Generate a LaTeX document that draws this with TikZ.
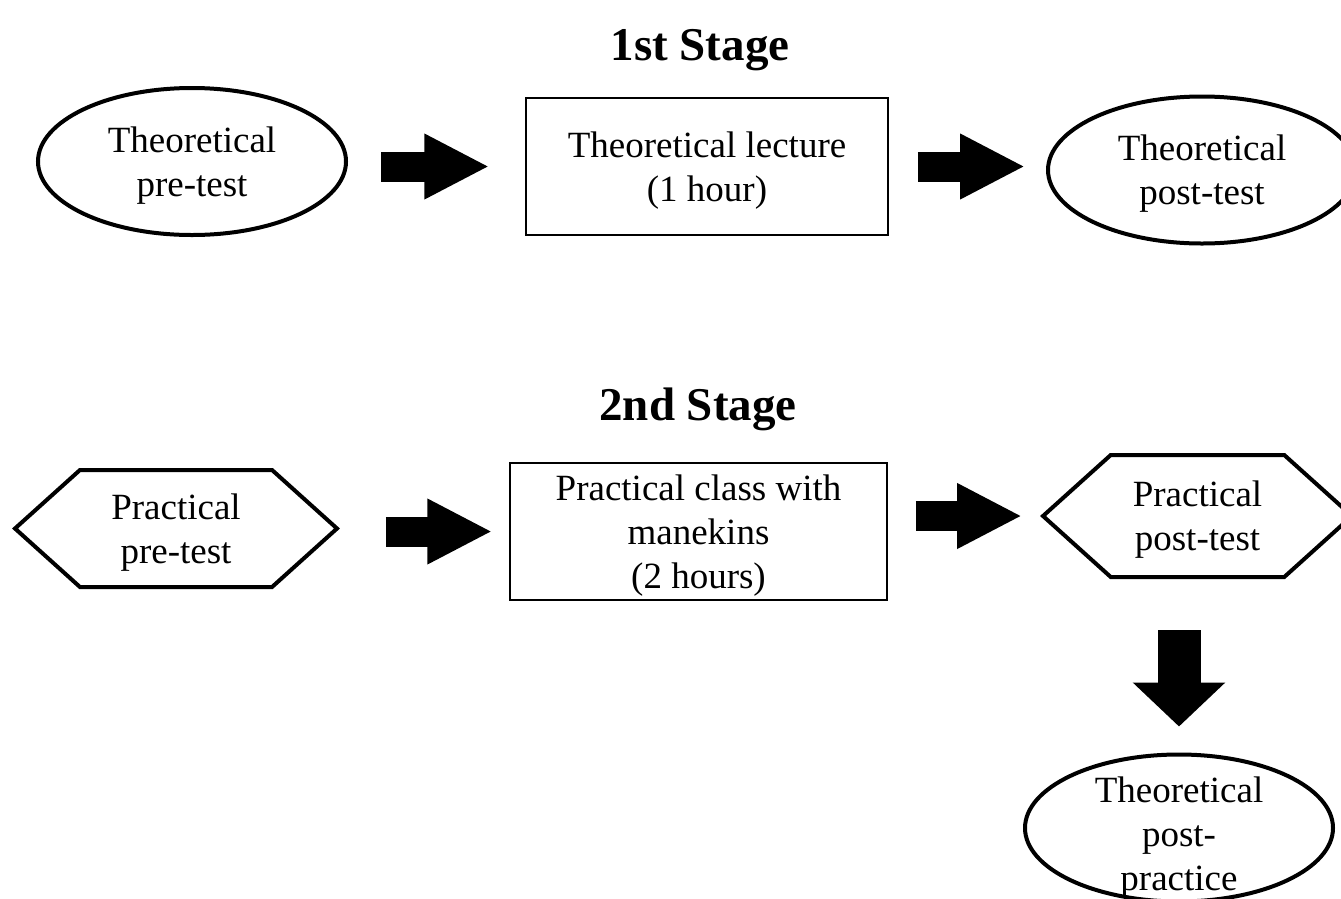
\documentclass[tikz,border=0pt]{standalone}
\usepackage{fontspec}
\setmainfont{Liberation Serif}
\usetikzlibrary{shapes.geometric,shapes.symbols,arrows.meta}

\begin{document}
\begin{tikzpicture}[x=1pt,y=-1pt,
txt/.style={%
font=\fontsize{37}{44}\selectfont,
align=center,
text depth=0pt,
},
stage/.style={%
anchor=base,
font=\fontsize{47}{54}\selectfont\bfseries,
},
test/.style={%
txt,
ellipse,
draw,
line width=4pt,
inner sep=0pt,
minimum width=308pt,
minimum height=147pt,
},
practest/.style={%
txt,
signal,
signal to=west and east,
signal pointer angle=84,
draw,
line width=4pt,
inner sep=0pt,
},
lesson/.style={%
txt,
draw,
line width=1.5pt,
minimum height=137pt,
},
fat/.style={%
line width=30pt,
-{Triangle[length=65pt,width=61pt]},
},
]
\useasboundingbox(0,0)rectangle(1341,898);
%% 1st stage
\node[stage]at(700,60)(s1){1st Stage};
\node[test]at(192,161.5)(tpre){Theoretical\\pre-test};
\node[lesson,minimum width=362pt]at(707,166.5)(lect){Theoretical lecture\\(1 hour)};
\node[test]at(1202,170)(tpost){Theoretical\\post-test};
\draw[fat,shorten <=33pt,shorten >=36pt](tpre.east|-lect.west)--(lect.west);
\draw[fat,shorten <=29pt,shorten >=21pt](lect.east)--(lect.east-|tpost.west);
%% 2nd stage
\node[stage]at(698,420)(s2){2nd Stage};
\node[practest,minimum width=322pt,minimum height=117pt]at(176,528.5)(ppre){Practical\\pre-test};
\node[lesson,minimum width=377pt]at(698.5,531.5)(prac){Practical class with\\manekins\\(2 hours)};
\node[practest,minimum width=309pt,minimum height=122pt]at(1197.5,516)(ppost){Practical\\post-test};
\node[test,label={[txt,yshift=-6pt]center:Theoretical\\post-\\practice}]at(1179,828)(tpp){};
\draw[fat,shorten <=46pt,shorten >=17pt](ppre.east|-prac.west)--(prac.west);
\draw[fat,shorten <=28pt,shorten >=18pt](prac.east|-ppost.west)--(ppost.west);
\draw[line width=43pt,-{Triangle[length=44pt,width=90pt]},shorten <=51pt,shorten >=26pt](ppost.south-|tpp.north)--(tpp.north);
\end{tikzpicture}
\end{document}
